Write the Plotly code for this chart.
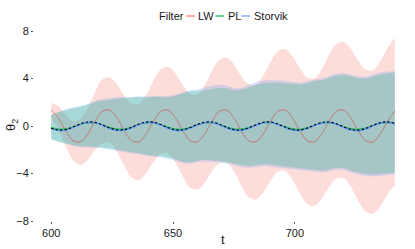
import plotly.graph_objects as go

# time grid (every 3 steps)
T = list(range(600, 742, 3))

# grey reference curve
GREY = [1.34, 0.67, -0.40, -1.23, -1.34, -0.67, 0.40, 1.23,
        1.34, 0.67, -0.40, -1.23, -1.34, -0.67, 0.40, 1.23,
        1.34, 0.67, -0.40, -1.23, -1.34, -0.67, 0.40, 1.23,
        1.34, 0.67, -0.40, -1.23, -1.34, -0.67, 0.40, 1.23,
        1.34, 0.67, -0.40, -1.23, -1.34, -0.67, 0.40, 1.23,
        1.34, 0.67, -0.40, -1.23, -1.34, -0.67, 0.40, 1.23]

# dashed black reference
TRUE = [-0.19, -0.34, -0.30, -0.08, 0.18, 0.34, 0.30, 0.10, -0.17, -0.33, -0.31, -0.11,
        0.16, 0.33, 0.32, 0.12, -0.14, -0.33, -0.32, -0.13, 0.13, 0.32, 0.33, 0.15,
        -0.12, -0.31, -0.33, -0.16, 0.10, 0.31, 0.34, 0.17, -0.09, -0.30, -0.34, -0.18,
        0.08, 0.30, 0.34, 0.19, -0.07, -0.29, -0.35, -0.21, 0.05, 0.28, 0.35, 0.22]

# LW filter
LW_MEAN = [1.34, 0.67, -0.40, -1.23, -1.34, -0.67, 0.40, 1.23,
           1.34, 0.67, -0.40, -1.23, -1.34, -0.67, 0.40, 1.23,
           1.34, 0.67, -0.40, -1.23, -1.34, -0.67, 0.40, 1.23,
           1.34, 0.67, -0.40, -1.23, -1.34, -0.67, 0.40, 1.23,
           1.34, 0.67, -0.40, -1.23, -1.34, -0.67, 0.40, 1.23,
           1.34, 0.67, -0.40, -1.23, -1.34, -0.67, 0.40, 1.23]
LW_UP = [1.94, 1.67, 0.95, 0.42, 0.61, 1.53, 2.85, 3.93, 4.09, 3.52, 2.55, 1.87,
         1.86, 2.63, 3.82, 4.78, 4.99, 4.42, 3.45, 2.72, 2.66, 3.43, 4.62, 5.58,
         5.76, 5.17, 4.20, 3.52, 3.51, 4.26, 5.40, 6.30, 6.46, 5.87, 4.87, 4.10,
         4.04, 4.78, 5.95, 6.88, 7.06, 6.47, 5.50, 4.75, 4.71, 5.43, 6.55, 7.43]
LW_LO = [0.74, -0.33, -1.75, -2.88, -3.29, -2.87, -2.05, -1.47, -1.41, -2.18, -3.35, -4.33,
         -4.54, -3.97, -3.02, -2.32, -2.31, -3.08, -4.25, -5.18, -5.34, -4.77, -3.82, -3.12,
         -3.08, -3.83, -5.00, -5.98, -6.19, -5.60, -4.60, -3.84, -3.78, -4.53, -5.67, -6.56,
         -6.72, -6.12, -5.15, -4.42, -4.38, -5.13, -6.30, -7.21, -7.39, -6.77, -5.75, -4.97]

# PL filter
PL_MEAN = [-0.12, -0.25, -0.24, -0.08, 0.12, 0.26, 0.25, 0.10, -0.11, -0.25, -0.25, -0.10,
           0.12, 0.26, 0.26, 0.11, -0.10, -0.25, -0.26, -0.11, 0.10, 0.25, 0.27, 0.13,
           -0.08, -0.24, -0.26, -0.13, 0.08, 0.24, 0.27, 0.15, -0.06, -0.23, -0.27, -0.15,
           0.05, 0.23, 0.27, 0.16, -0.04, -0.22, -0.27, -0.17, 0.03, 0.21, 0.28, 0.19]
PL_UP = [0.92, 1.15, 1.35, 1.50, 1.62, 1.80, 2.00, 2.12, 2.20, 2.30, 2.35, 2.38,
         2.45, 2.42, 2.45, 2.45, 2.42, 2.55, 2.75, 2.90, 2.95, 3.00, 3.12, 3.20,
         3.18, 3.00, 3.05, 3.25, 3.45, 3.60, 3.65, 3.65, 3.60, 3.55, 3.50, 3.60,
         3.80, 3.85, 4.05, 4.25, 4.30, 4.18, 4.05, 4.00, 4.15, 4.35, 4.45, 4.50]
PL_LO = [-1.10, -1.30, -1.45, -1.62, -1.70, -1.72, -1.75, -1.80, -1.88, -2.00, -2.10, -2.20,
         -2.28, -2.40, -2.50, -2.55, -2.65, -2.80, -3.00, -3.05, -2.92, -2.85, -2.90, -2.95,
         -3.05, -3.15, -3.30, -3.37, -3.30, -3.22, -3.25, -3.35, -3.40, -3.48, -3.55, -3.62,
         -3.68, -3.75, -3.65, -3.52, -3.55, -3.75, -3.92, -4.05, -4.08, -4.05, -3.98, -3.93]

# Storvik filter
ST_MEAN = [-0.22, -0.37, -0.33, -0.12, 0.14, 0.30, 0.27, 0.06, -0.21, -0.37, -0.35, -0.15,
           0.12, 0.29, 0.28, 0.08, -0.18, -0.37, -0.36, -0.17, 0.09, 0.28, 0.29, 0.11,
           -0.16, -0.35, -0.37, -0.20, 0.06, 0.27, 0.30, 0.13, -0.13, -0.34, -0.38, -0.22,
           0.04, 0.26, 0.30, 0.15, -0.11, -0.33, -0.39, -0.25, 0.01, 0.24, 0.31, 0.18]
ST_UP = [0.95, 1.18, 1.40, 1.55, 1.68, 1.88, 2.10, 2.25, 2.35, 2.42, 2.45, 2.45,
         2.50, 2.48, 2.50, 2.52, 2.52, 2.65, 2.85, 3.02, 3.10, 3.25, 3.40, 3.47,
         3.42, 3.20, 3.20, 3.45, 3.70, 3.82, 3.85, 3.85, 3.80, 3.70, 3.65, 3.74,
         3.92, 4.00, 4.20, 4.40, 4.45, 4.32, 4.20, 4.15, 4.30, 4.48, 4.60, 4.62]
ST_LO = [-1.12, -1.34, -1.50, -1.68, -1.78, -1.80, -1.84, -1.90, -1.98, -2.10, -2.20, -2.30,
         -2.38, -2.50, -2.60, -2.66, -2.78, -2.93, -3.12, -3.18, -3.04, -2.98, -3.02, -3.08,
         -3.18, -3.30, -3.45, -3.52, -3.45, -3.38, -3.40, -3.50, -3.55, -3.62, -3.70, -3.77,
         -3.84, -3.90, -3.80, -3.68, -3.70, -3.90, -4.08, -4.20, -4.24, -4.20, -4.13, -4.08]

FILTERS = ["LW", "PL", "Storvik"]
COLORS = ["#F8766D", "#00BA38", "#619CFF"]
FILLS = ["rgba(248,118,109,0.25)", "rgba(0,186,56,0.25)", "rgba(97,156,255,0.25)"]
Y_TICKS = [-8, -4, 0, 4, 8]
X_TICKS = [600, 650, 700]

FONT = "Liberation Sans, Arial, sans-serif"
W, H = 415, 249
ML, MR, MT, MB = 34, 3, 31, 28

fig = go.Figure()

for lo, up, fc in [(LW_LO, LW_UP, FILLS[0]), (PL_LO, PL_UP, FILLS[1]), (ST_LO, ST_UP, FILLS[2])]:
    fig.add_trace(go.Scatter(x=T, y=lo, mode="lines", line=dict(width=0, shape="spline"),
                             showlegend=False, hoverinfo="skip"))
    fig.add_trace(go.Scatter(x=T, y=up, mode="lines", line=dict(width=0, shape="spline"),
                             fill="tonexty", fillcolor=fc, showlegend=False, hoverinfo="skip"))

# LW mean (mostly hidden under the grey curve)
fig.add_trace(go.Scatter(x=T, y=LW_MEAN, mode="lines",
                         line=dict(color=COLORS[0], width=0.9, shape="spline"), showlegend=False))
# grey curve
fig.add_trace(go.Scatter(x=T[1:], y=GREY[1:], mode="lines",
                         line=dict(color="#a09692", width=1.0, shape="spline"), showlegend=False))
fig.add_trace(go.Scatter(x=T, y=PL_MEAN, mode="lines",
                         line=dict(color=COLORS[1], width=1.0, shape="spline"), showlegend=False))
fig.add_trace(go.Scatter(x=T, y=ST_MEAN, mode="lines",
                         line=dict(color=COLORS[2], width=1.6, shape="spline"), showlegend=False))
fig.add_trace(go.Scatter(x=T, y=TRUE, mode="lines",
                         line=dict(color="black", width=1.1, dash="2.5px,2px", shape="spline"),
                         showlegend=False))

pw = W - ML - MR
ph = H - MT - MB


def px_x(p):
    return (p - ML) / pw


def px_y(p):
    return (H - MB - p) / ph


ly = px_y(16)
txt_font = dict(family=FONT, size=11, color="#1a1a1a")
annotations = [dict(text="Filter", x=px_x(156.5), y=ly, xref="paper", yref="paper",
                    xanchor="left", yanchor="middle", showarrow=False, font=txt_font)]
shapes = []
key_x = [(186, 195, 196), (215.5, 224, 225.5), (241.5, 250, 252)]
for name, col, (k0, k1, tx) in zip(FILTERS, COLORS, key_x):
    shapes.append(dict(type="line", xref="paper", yref="paper", x0=px_x(k0), x1=px_x(k1),
                       y0=ly, y1=ly, line=dict(color=col, width=1.2)))
    annotations.append(dict(text=name, x=px_x(tx), y=ly, xref="paper", yref="paper",
                            xanchor="left", yanchor="middle", showarrow=False, font=txt_font))

# axis titles
title_font = dict(family=FONT, size=13, color="#1a1a1a")
annotations.append(dict(text="t", x=px_x(222.8), y=px_y(239.5), xref="paper", yref="paper",
                        xanchor="center", yanchor="middle", showarrow=False, font=title_font))
annotations.append(dict(text="θ<sub>2</sub>", x=px_x(11), y=px_y(125), xref="paper", yref="paper",
                        xanchor="center", yanchor="middle", showarrow=False, textangle=-90,
                        font=title_font))

fig.update_layout(
    width=W, height=H,
    margin=dict(l=ML, r=MR, t=MT, b=MB, pad=0),
    paper_bgcolor="white", plot_bgcolor="white",
    font=dict(family=FONT, size=11, color="#1a1a1a"),
    showlegend=False,
    annotations=annotations,
    shapes=shapes,
    xaxis=dict(range=[592.95, 748.05], tickvals=X_TICKS, ticks="outside", ticklen=2,
               tickcolor="#555", tickwidth=0.8, showgrid=False, zeroline=False, showline=False,
               automargin=False, tickfont=txt_font),
    yaxis=dict(range=[-8, 8], tickvals=Y_TICKS, ticks="outside", ticklen=2,
               tickcolor="#555", tickwidth=0.8, showgrid=False, zeroline=False, showline=False,
               automargin=False, tickfont=txt_font),
)

fig.write_html("out.html", config={"displayModeBar": False},
               post_script="document.body.style.margin='0px';")
